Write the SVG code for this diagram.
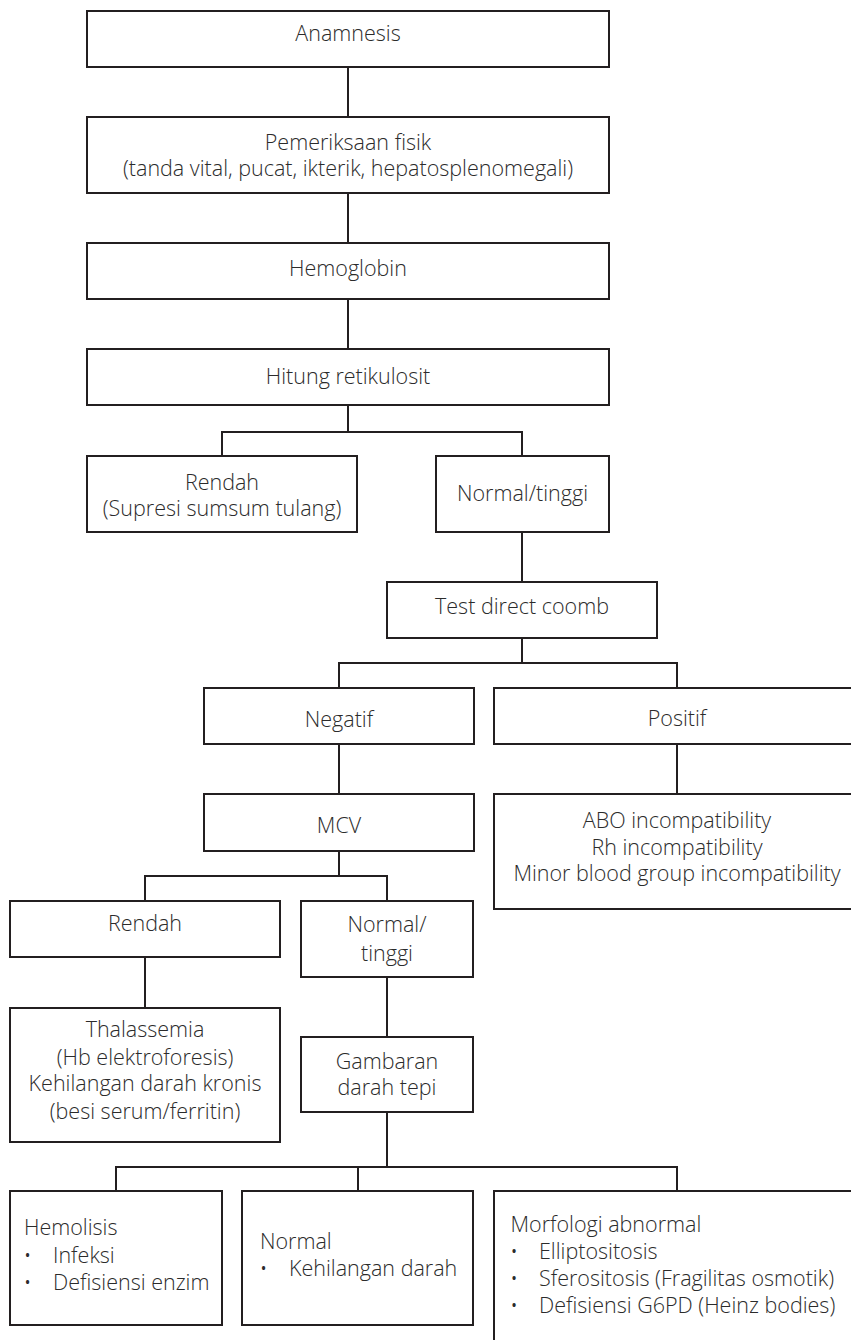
<svg xmlns="http://www.w3.org/2000/svg" width="851" height="1340" viewBox="0 0 851 1340">
<style>
.b{fill:#fff;stroke:#231f20;stroke-width:2}
.c{fill:none;stroke:#231f20;stroke-width:2}
text{font-family:"Open Sans","Liberation Sans",sans-serif;font-weight:300;font-size:21.5px;fill:#2b2b2b}
.m{text-anchor:middle}
</style>
<rect width="851" height="1340" fill="#fff"/>
<g id="connectors">
<path class="c" d="M348 67V117M348 193V243M348 299V349"/>
<path class="c" d="M348 405V432M222 456V432H522V456"/>
<path class="c" d="M522 532V582M522 638V663M339 688V663H677V688"/>
<path class="c" d="M339 744V794M677 744V794"/>
<path class="c" d="M339 851V876M145 901V876H387V901"/>
<path class="c" d="M145 957V1008M387 977V1037"/>
<path class="c" d="M387 1112V1167M116 1191V1167H677V1191M358 1167V1191"/>
</g>
<g id="anamnesis"><rect class="b" x="87" y="11" width="522" height="56"/><text class="m" x="348" y="41">Anamnesis</text></g>
<g id="pemeriksaan"><rect class="b" x="87" y="117" width="522" height="76"/><text class="m" x="348" y="150">Pemeriksaan fisik</text><text class="m" x="348" y="176">(tanda vital, pucat, ikterik, hepatosplenomegali)</text></g>
<g id="hemoglobin"><rect class="b" x="87" y="243" width="522" height="56"/><text class="m" x="348" y="276">Hemoglobin</text></g>
<g id="retikulosit"><rect class="b" x="87" y="349" width="522" height="56"/><text class="m" x="348" y="384">Hitung retikulosit</text></g>
<g id="rendah1"><rect class="b" x="87" y="456" width="270" height="76"/><text class="m" x="222" y="490">Rendah</text><text class="m" x="222" y="516">(Supresi sumsum tulang)</text></g>
<g id="normal1"><rect class="b" x="436" y="456" width="173" height="76"/><text class="m" x="522.5" y="501">Normal/tinggi</text></g>
<g id="coomb"><rect class="b" x="387" y="582" width="270" height="56"/><text class="m" x="522" y="614">Test direct coomb</text></g>
<g id="negatif"><rect class="b" x="204" y="688" width="270" height="56"/><text class="m" x="339" y="727">Negatif</text></g>
<g id="positif"><rect class="b" x="494" y="688" width="366" height="56"/><text class="m" x="677" y="726">Positif</text></g>
<g id="mcv"><rect class="b" x="204" y="794" width="270" height="57"/><text class="m" x="339" y="833">MCV</text></g>
<g id="inkompatibilitas"><rect class="b" x="494" y="794" width="366" height="115"/><text class="m" x="677" y="828">ABO incompatibility</text><text class="m" x="677" y="855">Rh incompatibility</text><text class="m" x="677" y="881">Minor blood group incompatibility</text></g>
<g id="rendah2"><rect class="b" x="10" y="901" width="270" height="56"/><text class="m" x="145" y="931">Rendah</text></g>
<g id="normal2"><rect class="b" x="301" y="901" width="172" height="76"/><text class="m" x="387" y="932">Normal/</text><text class="m" x="387" y="961">tinggi</text></g>
<g id="thalassemia"><rect class="b" x="10" y="1008" width="270" height="134"/><text class="m" x="145" y="1037">Thalassemia</text><text class="m" x="145" y="1065">(Hb elektroforesis)</text><text class="m" x="145" y="1091">Kehilangan darah kronis</text><text class="m" x="145" y="1119">(besi serum/ferritin)</text></g>
<g id="gambaran"><rect class="b" x="301" y="1037" width="172" height="75"/><text class="m" x="387" y="1069">Gambaran</text><text class="m" x="387" y="1095">darah tepi</text></g>
<g id="hemolisis"><rect class="b" x="10" y="1191" width="212" height="134"/><text x="24" y="1235">Hemolisis</text><text x="23.5" y="1263">•</text><text x="53" y="1263">Infeksi</text><text x="23.5" y="1290">•</text><text x="53" y="1290">Defisiensi enzim</text></g>
<g id="normal3"><rect class="b" x="242" y="1191" width="231" height="134"/><text x="260" y="1249">Normal</text><text x="259.5" y="1276">•</text><text x="289" y="1276">Kehilangan darah</text></g>
<g id="morfologi"><rect class="b" x="494" y="1191" width="366" height="160"/><text x="510.5" y="1232">Morfologi abnormal</text><text x="510" y="1259">•</text><text x="539" y="1259">Elliptositosis</text><text x="510" y="1286">•</text><text x="539" y="1286">Sferositosis (Fragilitas osmotik)</text><text x="510" y="1313">•</text><text x="539" y="1313">Defisiensi G6PD (Heinz bodies)</text></g>
</svg>
